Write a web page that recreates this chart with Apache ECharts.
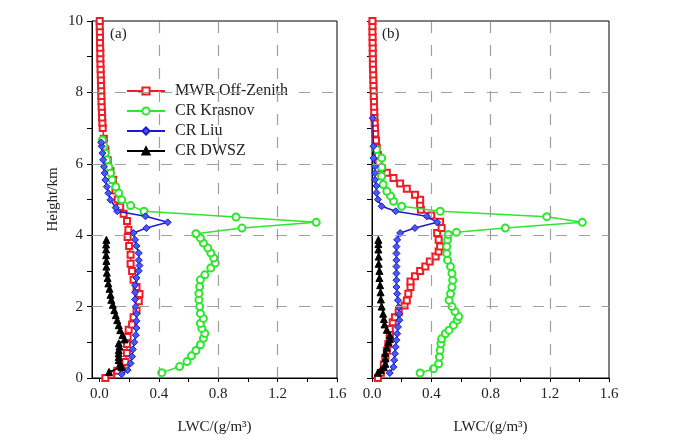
<!DOCTYPE html>
<html><head><meta charset="utf-8">
<script src="https://cdn.jsdelivr.net/npm/echarts@6/dist/echarts.min.js"></script>
<style>html,body{margin:0;padding:0;background:#fff}#c{width:683px;height:440px}</style>
</head><body><div id="c"></div>
<script>
// ---- tick labels ----
const xTicks = [0, 0.2, 0.4, 0.6, 0.8, 1.0, 1.2, 1.4, 1.6];
const xLabels = [0, 0.4, 0.8, 1.2, 1.6];
const xGrid = [0.4, 0.8, 1.2];
const yTicks = [0, 1, 2, 3, 4, 5, 6, 7, 8, 9, 10];
const yLabels = [0, 2, 4, 6, 8, 10];
const yGrid = [2, 4, 6, 8];
const seriesNames = ['MWR Off-Zenith', 'CR Krasnov', 'CR Liu', 'CR DWSZ'];
const panelNames = ['(a)', '(b)'];

// ---- panel (a) ----
const aMwrH = [0, 0.1, 0.2, 0.3, 0.45, 0.7, 0.95, 1.15, 1.35, 1.5, 1.7, 1.9, 2.15, 2.35, 2.55, 2.75, 3.0, 3.2, 3.45, 3.7, 3.95, 4.15, 4.4, 4.6, 4.8, 5.0, 5.25, 5.55, 5.8, 6.1, 6.4, 6.7, 7.0, 7.15, 7.3, 7.45, 7.6, 7.75, 7.9, 8.05, 8.2, 8.35, 8.5, 8.65, 8.8, 8.95, 9.1, 9.25, 9.4, 9.55, 9.7, 9.85, 10.0];
const aMwrV = [0.04, 0.08, 0.12, 0.15, 0.175, 0.185, 0.186, 0.19, 0.197, 0.22, 0.23, 0.25, 0.265, 0.27, 0.25, 0.23, 0.22, 0.21, 0.21, 0.2, 0.19, 0.195, 0.186, 0.163, 0.14, 0.123, 0.108, 0.092, 0.074, 0.056, 0.04, 0.03, 0.022, 0.02, 0.018, 0.017, 0.015, 0.014, 0.013, 0.012, 0.011, 0.01, 0.009, 0.008, 0.007, 0.006, 0.006, 0.005, 0.004, 0.004, 0.003, 0.002, 0.002];

const aKraH = [0.15, 0.32, 0.46, 0.62, 0.77, 0.93, 1.11, 1.25, 1.39, 1.53, 1.67, 1.81, 2.0, 2.19, 2.37, 2.56, 2.75, 2.89, 3.08, 3.22, 3.36, 3.5, 3.64, 3.78, 3.92, 4.04, 4.2, 4.36, 4.51, 4.67, 4.83, 4.99, 5.18, 5.36, 5.55, 5.74, 5.92, 6.11, 6.3, 6.49, 6.67];
const aKraV = [0.42, 0.54, 0.59, 0.62, 0.65, 0.68, 0.70, 0.71, 0.69, 0.68, 0.70, 0.68, 0.675, 0.67, 0.67, 0.675, 0.68, 0.71, 0.75, 0.78, 0.77, 0.75, 0.73, 0.70, 0.68, 0.65, 0.96, 1.46, 0.92, 0.30, 0.21, 0.15, 0.13, 0.11, 0.085, 0.075, 0.063, 0.05, 0.04, 0.03, 0.02];

const aLiuH = [0.11, 0.22, 0.41, 0.6, 0.8, 1.0, 1.2, 1.4, 1.6, 1.8, 2.0, 2.2, 2.4, 2.6, 2.8, 3.0, 3.15, 3.3, 3.5, 3.7, 3.87, 4.06, 4.2, 4.36, 4.53, 4.67, 4.77, 4.99, 5.18, 5.36, 5.55, 5.74, 5.92, 6.11, 6.3, 6.49, 6.6];
const aLiuV = [0.15, 0.19, 0.21, 0.22, 0.225, 0.235, 0.245, 0.25, 0.25, 0.25, 0.245, 0.24, 0.24, 0.24, 0.25, 0.265, 0.27, 0.265, 0.265, 0.25, 0.24, 0.23, 0.316, 0.46, 0.31, 0.12, 0.11, 0.074, 0.06, 0.05, 0.04, 0.035, 0.03, 0.025, 0.02, 0.015, 0.012];

const aDwsH = [0.17, 0.31, 0.4, 0.5, 0.59, 0.69, 0.78, 0.88, 0.97, 1.08, 1.2, 1.34, 1.48, 1.62, 1.76, 1.9, 2.05, 2.19, 2.33, 2.5, 2.65, 2.8, 2.95, 3.12, 3.28, 3.44, 3.6, 3.74, 3.87];
const aDwsV = [0.065, 0.15, 0.14, 0.13, 0.13, 0.13, 0.13, 0.135, 0.13, 0.17, 0.155, 0.14, 0.13, 0.12, 0.11, 0.1, 0.09, 0.08, 0.075, 0.068, 0.06, 0.055, 0.05, 0.047, 0.047, 0.045, 0.045, 0.045, 0.047];

// ---- panel (b) ----
const bMwrH = [0.0, 0.15, 0.38, 0.57, 0.76, 0.95, 1.09, 1.23, 1.37, 1.56, 1.7, 1.84, 2.03, 2.17, 2.36, 2.55, 2.7, 2.85, 3.0, 3.12, 3.26, 3.4, 3.54, 3.68, 3.87, 4.06, 4.2, 4.38, 4.55, 4.71, 4.85, 4.99, 5.13, 5.3, 5.45, 5.6, 5.75, 5.88, 6.05, 6.25, 6.45, 6.65, 6.85, 7.0, 7.15, 7.3, 7.45, 7.6, 7.75, 7.9, 8.05, 8.2, 8.35, 8.5, 8.65, 8.8, 8.95, 9.1, 9.25, 9.4, 9.55, 9.7, 9.85, 10.0];
const bMwrV = [0.04, 0.06, 0.08, 0.09, 0.1, 0.11, 0.12, 0.12, 0.12, 0.14, 0.155, 0.18, 0.22, 0.235, 0.245, 0.26, 0.26, 0.29, 0.325, 0.36, 0.39, 0.43, 0.45, 0.46, 0.45, 0.44, 0.47, 0.46, 0.40, 0.33, 0.325, 0.325, 0.29, 0.235, 0.19, 0.145, 0.1, 0.065, 0.045, 0.04, 0.032, 0.027, 0.022, 0.02, 0.018, 0.016, 0.015, 0.014, 0.013, 0.012, 0.011, 0.01, 0.009, 0.008, 0.007, 0.006, 0.006, 0.005, 0.005, 0.004, 0.004, 0.003, 0.003, 0.003];

const bKraH = [0.14, 0.26, 0.4, 0.59, 0.78, 0.96, 1.1, 1.24, 1.34, 1.48, 1.62, 1.72, 1.86, 2.0, 2.18, 2.36, 2.55, 2.74, 2.93, 3.12, 3.3, 3.49, 3.68, 3.87, 4.02, 4.08, 4.2, 4.36, 4.52, 4.67, 4.81, 4.95, 5.1, 5.23, 5.42, 5.65, 5.9, 6.16, 6.4];
const bKraV = [0.325, 0.415, 0.45, 0.455, 0.46, 0.465, 0.47, 0.495, 0.52, 0.55, 0.575, 0.585, 0.56, 0.54, 0.52, 0.53, 0.54, 0.545, 0.54, 0.53, 0.51, 0.505, 0.505, 0.51, 0.515, 0.57, 0.9, 1.42, 1.18, 0.46, 0.2, 0.145, 0.125, 0.1, 0.075, 0.065, 0.065, 0.065, 0.03];

const bLiuH = [0.14, 0.31, 0.5, 0.68, 0.87, 1.06, 1.24, 1.43, 1.62, 1.8, 1.99, 2.18, 2.36, 2.55, 2.74, 2.93, 3.12, 3.3, 3.49, 3.68, 3.87, 4.06, 4.2, 4.36, 4.53, 4.67, 4.81, 5.0, 5.19, 5.38, 5.55, 5.74, 5.93, 6.16, 6.49, 7.28];
const bLiuV = [0.12, 0.145, 0.15, 0.155, 0.16, 0.165, 0.17, 0.175, 0.185, 0.185, 0.18, 0.175, 0.17, 0.165, 0.165, 0.165, 0.165, 0.165, 0.165, 0.165, 0.17, 0.19, 0.29, 0.44, 0.37, 0.16, 0.065, 0.04, 0.03, 0.03, 0.02, 0.02, 0.02, 0.01, 0.01, 0.005];

const bDwsH = [0.15, 0.22, 0.3, 0.4, 0.55, 0.7, 0.85, 1.0, 1.1, 1.2, 1.35, 1.5, 1.65, 1.8, 2.0, 2.2, 2.4, 2.6, 2.8, 3.0, 3.2, 3.4, 3.6, 3.75, 3.87];
const bDwsV = [0.04, 0.06, 0.08, 0.09, 0.09, 0.09, 0.1, 0.11, 0.12, 0.12, 0.1, 0.085, 0.08, 0.075, 0.065, 0.06, 0.058, 0.055, 0.05, 0.05, 0.045, 0.045, 0.043, 0.043, 0.043];

const FONT = 'Liberation Serif';
const TXT = '#222';
const pair = (h, v) => h.map((hh, i) => [v[i], hh]);

const styles = [
  { color: '#ee1c24', symbol: 'emptyRect', size: 6, fill: '#fff' },
  { color: '#2ee62e', symbol: 'emptyCircle', size: 7, fill: '#fff' },
  { color: '#1c1ccc', symbol: 'diamond', size: 7, fill: '#4a5af0' },
  { color: '#000000', symbol: 'triangle', size: 7, fill: '#000' }
];

const panels = [
  [pair(aMwrH, aMwrV), pair(aKraH, aKraV), pair(aLiuH, aLiuV), pair(aDwsH, aDwsV)],
  [pair(bMwrH, bMwrV), pair(bKraH, bKraV), pair(bLiuH, bLiuV), pair(bDwsH, bDwsV)]
];

const grids = [
  { left: 92, top: 21, width: 245, height: 357 },
  { left: 372, top: 21, width: 237, height: 357 }
];
const xMins = [-0.05, 0];

const option = {
  backgroundColor: '#fff',
  animation: false,
  textStyle: { fontFamily: FONT },
  grid: grids.map(g => Object.assign({ show: true, borderColor: '#000', borderWidth: 1, backgroundColor: 'transparent' }, g)),
  xAxis: grids.map((g, i) => ({
    type: 'value', gridIndex: i, min: xMins[i], max: 1.6,
    name: 'LWC/(g/m³)', nameLocation: 'middle', nameGap: 42,
    nameTextStyle: { fontFamily: FONT, fontSize: 15, color: TXT },
    axisLine: { onZero: false, lineStyle: { color: '#000', width: 1 } },
    axisTick: { show: true, length: 4, customValues: xTicks, lineStyle: { color: '#000' } },
    axisLabel: { customValues: xLabels, margin: 9, fontFamily: FONT, fontSize: 15, color: TXT,
      formatter: v => Number(v).toFixed(1) },
    splitLine: { show: false }
  })),
  yAxis: grids.map((g, i) => ({
    type: 'value', gridIndex: i, min: 0, max: 10,
    name: i === 0 ? 'Height/km' : '', nameLocation: 'middle', nameGap: 31,
    nameTextStyle: { fontFamily: FONT, fontSize: 15, color: TXT },
    axisLine: { onZero: false, lineStyle: { color: '#000', width: 1 } },
    axisTick: { show: true, length: 5, customValues: yTicks, lineStyle: { color: '#000' } },
    axisLabel: { show: i === 0, customValues: yLabels, margin: 9, fontFamily: FONT, fontSize: 15, color: TXT },
    splitLine: { show: false }
  })),
  legend: {
    orient: 'vertical', left: 126, top: 83, padding: 0,
    itemWidth: 38, itemHeight: 9, itemGap: 4,
    data: seriesNames,
    textStyle: { fontFamily: FONT, fontSize: 16, color: TXT, lineHeight: 16, padding: [0, 0, 0, 5] }
  },
  graphic: panelNames.map((t, i) => ({
    type: 'text', left: grids[i].left + (i === 0 ? 18 : 10), top: 27,
    style: { text: t, font: '15px "Liberation Serif"', fill: TXT }
  })),
  series: []
};

panels.forEach((set, pi) => {
  option.series.push({
    type: 'line', xAxisIndex: pi, yAxisIndex: pi, data: [], silent: true, z: 1,
    markLine: {
      silent: true, symbol: ['none', 'none'], label: { show: false },
      lineStyle: { color: '#a0a0a0', width: 1.2, type: [11, 12] },
      data: xGrid.map(v => ({ xAxis: v })).concat(yGrid.map(v => ({ yAxis: v })))
    }
  });
  set.forEach((d, si) => {
    const s = styles[si];
    option.series.push({
      name: seriesNames[si], type: 'line', xAxisIndex: pi, yAxisIndex: pi,
      data: d, symbol: s.symbol, symbolSize: s.size, showAllSymbol: true,
      lineStyle: { color: s.color, width: 1.5 },
      itemStyle: { color: s.symbol.startsWith('empty') ? s.color : s.fill, borderColor: s.color, borderWidth: s.symbol.startsWith('empty') ? 1.5 : 1 },
      z: 2 + si
    });
  });
});

const chart = echarts.init(document.getElementById('c'), null, { renderer: 'canvas' });
chart.setOption(option);
</script></body></html>
